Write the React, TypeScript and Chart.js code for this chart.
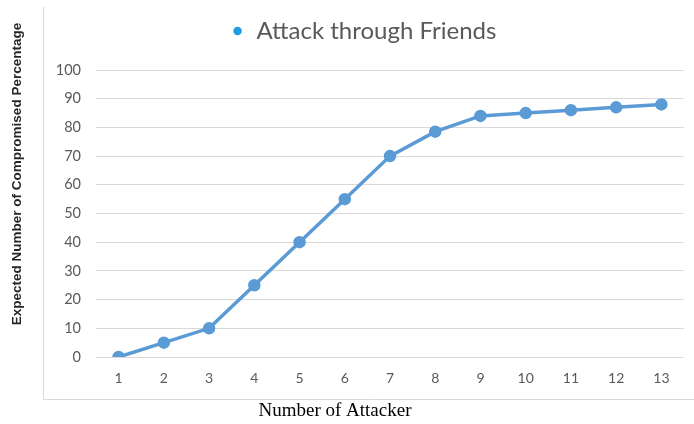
import React, { useEffect, useRef } from "react";
import { Chart, registerables } from "chart.js";

Chart.register(...registerables);

const categories = ["1", "2", "3", "4", "5", "6", "7", "8", "9", "10", "11", "12", "13"];
const seriesLabel = "Attack through Friends";
const values = [0, 5, 10, 25, 40, 55, 70, 78.5, 84, 85, 86, 87, 88];
const yTitle = "Expected Number of Compromised Percentage";
const xTitle = "Number of Attacker";

const decorPlugin = {
  id: "decor",
  beforeLayout(chart: any) {
    const legend = chart.legend;
    if (legend && !legend.__patched) {
      const orig = legend.fit;
      legend.fit = function () {
        orig.call(this);
        this.height += 17;
      };
      legend.__patched = true;
    }
  },
  beforeDraw(chart: any) {
    const ctx = chart.ctx;
    ctx.save();
    ctx.strokeStyle = "#d9d9d9";
    ctx.lineWidth = 1;
    ctx.beginPath();
    ctx.moveTo(43.5, 7);
    ctx.lineTo(43.5, 399.5);
    ctx.lineTo(694, 399.5);
    ctx.stroke();
    ctx.restore();
  },
  afterDraw(chart: any) {
    const ctx = chart.ctx;
    ctx.save();
    ctx.fillStyle = "#262626";
    ctx.font = "bold 13.5px 'Liberation Sans'";
    ctx.textAlign = "center";
    ctx.textBaseline = "middle";
    ctx.translate(17, 174);
    ctx.rotate(-Math.PI / 2);
    ctx.fillText(yTitle, 0, 0);
    ctx.restore();
    ctx.save();
    ctx.fillStyle = "#000000";
    ctx.font = "19px 'Liberation Serif'";
    ctx.textAlign = "center";
    ctx.textBaseline = "middle";
    ctx.fillText(xTitle, 335, 411);
    ctx.restore();
  },
};

export default function App() {
  const ref = useRef<HTMLCanvasElement>(null);
  useEffect(() => {
    const chart = new Chart(ref.current!, {
      type: "line",
      data: {
        labels: categories,
        datasets: [
          {
            label: seriesLabel,
            data: values,
            borderColor: "#5B9BD5",
            backgroundColor: "#5B9BD5",
            borderWidth: 3.5,
            pointRadius: 4.5,
            pointBackgroundColor: "#5B9BD5",
            pointBorderColor: "#5B9BD5",
            tension: 0,
          },
        ],
      },
      options: {
        responsive: false,
        animation: false,
        layout: { padding: { top: -8, left: 43, right: 10, bottom: 0 } },
        plugins: {
          legend: {
            display: true,
            position: "top",
            labels: {
              usePointStyle: true,
              pointStyle: "circle",
              boxWidth: 14,
              boxHeight: 6,
              padding: 27,
              color: "#595959",
              font: { family: "Lato", size: 24 },
              generateLabels: (c: any) => {
                const items = (Chart.defaults.plugins.legend.labels as any).generateLabels(c);
                items.forEach((i: any) => {
                  i.fillStyle = "#1F9BE6";
                  i.strokeStyle = "#1F9BE6";
                  i.lineWidth = 0;
                });
                return items;
              },
            },
          },
          tooltip: { enabled: false },
        },
        scales: {
          x: {
            type: "category",
            offset: true,
            grid: { display: false, drawTicks: false },
            border: { display: false },
            ticks: {
              color: "#595959",
              font: { family: "Lato", size: 14 },
              padding: 13,
            },
            afterFit: (s: any) => {
              s.height = 67;
            },
          },
          y: {
            min: 0,
            max: 100,
            ticks: {
              stepSize: 10,
              color: "#595959",
              font: { family: "Lato", size: 14.5 },
              padding: 15,
            },
            grid: { color: "#d9d9d9", lineWidth: 1, drawTicks: false },
            border: { display: false },
            afterFit: (s: any) => {
              s.width = 53;
            },
          },
        },
      },
      plugins: [decorPlugin],
    });
    return () => chart.destroy();
  }, []);
  return (
    <canvas
      ref={ref}
      width={694}
      height={424}
      style={{ position: "absolute", left: 0, top: 0, width: 694, height: 424 }}
    />
  );
}
